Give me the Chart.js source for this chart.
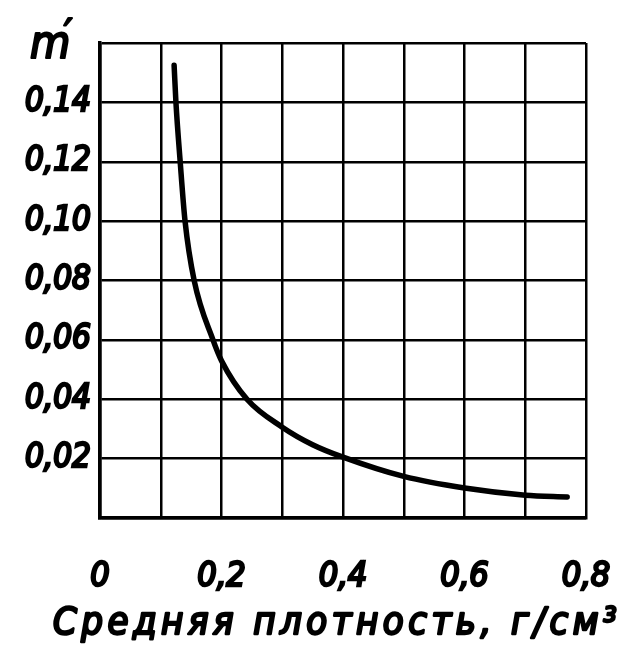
<!DOCTYPE html>
<html>
<head>
<meta charset="utf-8">
<script src="https://cdn.jsdelivr.net/npm/chart.js@4/dist/chart.umd.min.js"></script>
<style>
  html, body { margin: 0; padding: 0; background: #fff; }
  #wrap { width: 635px; height: 648px; position: relative; }
</style>
</head>
<body>
<div id="wrap"><canvas id="c" width="635" height="648"></canvas></div>
<script>
// Data
const densityX = [0.122, 0.125, 0.132, 0.140, 0.155, 0.186, 0.200, 0.242, 0.300, 0.350, 0.400, 0.500, 0.600, 0.700, 0.769];
const mPrimeY  = [0.1525, 0.140, 0.120, 0.100, 0.080, 0.060, 0.053, 0.040, 0.0306, 0.0247, 0.0205, 0.0140, 0.0101, 0.0077, 0.0071];
const xTickLabels = {0: '0', 2: '0,2', 4: '0,4', 6: '0,6', 8: '0,8'};
const yTickLabels = {1: '0,02', 2: '0,04', 3: '0,06', 4: '0,08', 5: '0,10', 6: '0,12', 7: '0,14'};
const yAxisLabel = "m";
const yAxisPrime = "′";
const xAxisTitle = "Средняя плотность, г/см³";

const FONT = "'DejaVu Sans Condensed', 'DejaVu Sans', sans-serif";

const points = densityX.map((x, i) => ({x: x, y: mPrimeY[i]}));

const textPlugin = {
  id: 'texts',
  afterDraw(chart) {
    const ctx = chart.ctx;
    ctx.save();
    ctx.fillStyle = '#000';
    ctx.strokeStyle = '#000';
    ctx.lineJoin = 'round';
    // m' label
    ctx.font = 'italic 46px ' + FONT;
    ctx.textAlign = 'left';
    ctx.textBaseline = 'alphabetic';
    ctx.lineWidth = 2.2;
    ctx.fillText(yAxisLabel, 30, 58);
    ctx.strokeText(yAxisLabel, 30, 58);
    ctx.font = 'italic 40px ' + FONT;
    ctx.fillText(yAxisPrime, 64, 48);
    ctx.strokeText(yAxisPrime, 64, 48);
    // x-axis title with wide letter spacing
    ctx.font = 'italic 38px ' + FONT;
    const target = 568;
    const w0 = ctx.measureText(xAxisTitle).width;
    const n = Array.from(xAxisTitle).length;
    const sp = Math.max(0, (target - w0) / n);
    ctx.letterSpacing = sp.toFixed(2) + 'px';
    ctx.lineWidth = 2.4;
    ctx.fillText(xAxisTitle, 53, 634);
    ctx.strokeText(xAxisTitle, 53, 634);
    ctx.restore();
  }
};

new Chart(document.getElementById('c'), {
  type: 'scatter',
  data: {
    datasets: [{
      data: points,
      showLine: true,
      borderColor: '#000',
      borderWidth: 5.5,
      pointRadius: 0,
      cubicInterpolationMode: 'monotone',
      borderCapStyle: 'round',
      fill: false
    }]
  },
  options: {
    responsive: false,
    animation: false,
    devicePixelRatio: 1,
    layout: { padding: { top: 43, right: 49, left: 0, bottom: 0 } },
    plugins: { legend: { display: false }, tooltip: { enabled: false } },
    scales: {
      x: {
        type: 'linear',
        min: 0, max: 0.8,
        afterFit(scale) { scale.height = 130; scale.paddingLeft = 0; scale.paddingRight = 0; },
        grid: { color: '#000', lineWidth: 2.5, drawTicks: false },
        border: { color: '#000', width: 3.5 },
        ticks: {
          stepSize: 0.1,
          padding: 39,
          color: '#000',
          textStrokeColor: '#000',
          textStrokeWidth: 2.4,
          autoSkip: false,
          maxRotation: 0,
          font: { family: FONT, size: 34, style: 'italic', weight: 'normal' },
          callback: (v) => { const k = Math.round(v * 10); return xTickLabels[k] !== undefined ? xTickLabels[k] : ''; }
        },
        title: { display: false }
      },
      y: {
        type: 'linear',
        min: 0, max: 0.16,
        afterFit(scale) { scale.width = 100; scale.paddingTop = 0; scale.paddingBottom = 0; },
        grid: { color: '#000', lineWidth: 2.5, drawTicks: false },
        border: { color: '#000', width: 3.5 },
        ticks: {
          stepSize: 0.02,
          padding: 9,
          color: '#000',
          textStrokeColor: '#000',
          textStrokeWidth: 2.4,
          autoSkip: false,
          font: { family: FONT, size: 33, style: 'italic', weight: 'normal' },
          callback: (v) => { const k = Math.round(v * 50); return yTickLabels[k] !== undefined ? yTickLabels[k] : ''; }
        }
      }
    }
  },
  plugins: [textPlugin]
});
</script>
</body>
</html>
